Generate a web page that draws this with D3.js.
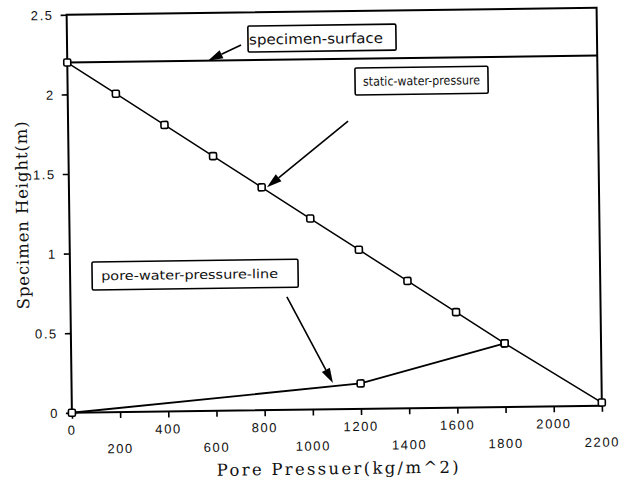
<!DOCTYPE html>
<html>
<head>
<meta charset="utf-8">
<script src="https://d3js.org/d3.v7.min.js"></script>
<style>
  html, body { margin: 0; padding: 0; background: #fff; }
  svg { display: block; }
</style>
</head>
<body>
<script>
// Static water pressure profile down the specimen (pressure kg/m^2, height m)
const staticPressure = [0, 200, 400, 600, 800, 1000, 1200, 1400, 1600, 1800, 2200];
const staticHeight   = [2.2, 2.0, 1.8, 1.6, 1.4, 1.2, 1.0, 0.8, 0.6, 0.4, 0.02];

// Measured pore water pressure line
const porePressure = [0, 1200, 1800];
const poreHeight   = [0, 0.16, 0.4];

// Top of the specimen
const surfaceHeight = 2.2;

// Axis ticks
const xTicks = [0, 200, 400, 600, 800, 1000, 1200, 1400, 1600, 1800, 2000, 2200];
const yTicks = [0, 0.5, 1, 1.5, 2, 2.5];
const yTickLabels = ["0", "0.5", "1", "1.5", "2", "2.5"];

// Callout labels: text and the data point each arrow points at
const calloutText = ["specimen-surface", "static-water-pressure", "pore-water-pressure-line"];
const calloutTarget = [[584, 2.2], [822, 1.40], [1085, 0.165]];

const W = 621, H = 479;
const margin = { left: 69.25, top: 11.25 };
const pw = 530, ph = 398;

const svg = d3.select("body").append("svg")
  .attr("width", W).attr("height", H);

// the scanned sheet sits at a slight tilt
const cx = margin.left + pw / 2, cy = margin.top + ph / 2;
const sheet = svg.append("g")
  .attr("transform", `rotate(-0.76, ${cx}, ${cy})`);

const g = sheet.append("g")
  .attr("transform", `translate(${margin.left},${margin.top})`);

const x = d3.scaleLinear().domain([0, 2200]).range([0, pw]);
const y = d3.scaleLinear().domain([0, 2.5]).range([ph, 0]);

const tickFont = "'Liberation Sans', Arial, sans-serif";
const serif = "'DejaVu Serif', 'Liberation Serif', serif";
const boxFont = "'DejaVu Sans', sans-serif";

// Axes
const xAxis = d3.axisBottom(x).tickValues(xTicks).tickSize(6).tickFormat("");
const yAxis = d3.axisLeft(y).tickValues(yTicks).tickSize(6).tickFormat("");

const gx = g.append("g").attr("transform", `translate(0,${ph})`).call(xAxis);
const gy = g.append("g").call(yAxis);
[gx, gy].forEach(a => {
  a.select(".domain").remove();
  a.selectAll(".tick line").attr("stroke", "#000").attr("stroke-width", 1.6);
});

// staggered x tick labels
g.append("g").selectAll("text")
  .data(xTicks)
  .join("text")
  .attr("x", d => x(d))
  .attr("y", (d, i) => ph + (i % 2 === 0 ? 22 : 41))
  .attr("text-anchor", "middle")
  .attr("font-family", tickFont)
  .attr("font-size", 13)
  .attr("letter-spacing", 1.6)
  .attr("fill", "#111")
  .text(d => d);

g.append("g").selectAll("text")
  .data(yTicks)
  .join("text")
  .attr("x", -13)
  .attr("y", d => y(d) + 5)
  .attr("text-anchor", "end")
  .attr("font-family", tickFont)
  .attr("font-size", 13)
  .attr("letter-spacing", 1.6)
  .attr("fill", "#111")
  .text((d, i) => yTickLabels[i]);

// Plot frame
g.append("rect")
  .attr("x", 0).attr("y", 0).attr("width", pw).attr("height", ph)
  .attr("fill", "none").attr("stroke", "#000").attr("stroke-width", 2);

// Axis titles
g.append("text")
  .attr("x", pw / 2).attr("y", ph + 65)
  .attr("text-anchor", "middle")
  .attr("font-family", serif).attr("font-size", 16.5)
  .attr("textLength", 242).attr("lengthAdjust", "spacing")
  .attr("fill", "#111")
  .text("Pore Pressuer(kg/m^2)");

g.append("text")
  .attr("transform", `translate(${22 - margin.left + 6},${ph / 2 + 1}) rotate(-90)`)
  .attr("text-anchor", "middle")
  .attr("font-family", serif).attr("font-size", 16.5)
  .attr("textLength", 188).attr("lengthAdjust", "spacing")
  .attr("fill", "#111")
  .text("Specimen Height(m)");

// Specimen surface line
g.append("line")
  .attr("x1", x(0)).attr("x2", x(2200))
  .attr("y1", y(surfaceHeight)).attr("y2", y(surfaceHeight))
  .attr("stroke", "#000").attr("stroke-width", 2);

const line = d3.line().x(d => x(d[0])).y(d => y(d[1]));
const staticPts = staticPressure.map((p, i) => [p, staticHeight[i]]);
const porePts = porePressure.map((p, i) => [p, poreHeight[i]]);

g.append("path").datum(staticPts).attr("d", line)
  .attr("fill", "none").attr("stroke", "#000").attr("stroke-width", 1.5);
g.append("path").datum(porePts).attr("d", line)
  .attr("fill", "none").attr("stroke", "#000").attr("stroke-width", 1.8);

// Square markers
const ms = 7;
g.append("g").selectAll("rect")
  .data(staticPts.concat(porePts))
  .join("rect")
  .attr("x", d => x(d[0]) - ms / 2).attr("y", d => y(d[1]) - ms / 2)
  .attr("width", ms).attr("height", ms).attr("rx", 1.5)
  .attr("fill", "#fff").attr("stroke", "#000").attr("stroke-width", 1.6);

// Callout boxes with arrows
const boxes = [
  { x: 181, y: 13.7, w: 148, h: 26, fs: 14, tx: 1, tl: 134, base: 18.5, sx: 174, sy: 32.5 },
  { x: 287.5, y: 57, w: 133, h: 27, fs: 12.5, tx: 8, tl: 117, base: 18, sx: 280, sy: 110 },
  { x: 22, y: 247.5, w: 206, h: 28, fs: 12.5, tx: 9, tl: 177, base: 18.5, sx: 216.5, sy: 285 }
];

boxes.forEach((b, i) => {
  const bg = g.append("g");
  bg.append("rect")
    .attr("x", b.x).attr("y", b.y).attr("width", b.w).attr("height", b.h)
    .attr("rx", 1.5)
    .attr("fill", "#fff").attr("stroke", "#000").attr("stroke-width", 1.6);
  bg.append("text")
    .attr("x", b.x + b.tx).attr("y", b.y + b.base)
    .attr("font-family", boxFont).attr("font-size", b.fs)
    .attr("textLength", b.tl).attr("lengthAdjust", "spacingAndGlyphs")
    .attr("fill", "#111")
    .text(calloutText[i]);

  const tx = x(calloutTarget[i][0]), ty = y(calloutTarget[i][1]);
  const dx = tx - b.sx, dy = ty - b.sy;
  const len = Math.hypot(dx, dy), ux = dx / len, uy = dy / len;
  const headL = 15, headW = 4.5;
  const bx = tx - ux * headL, by = ty - uy * headL;
  bg.append("line")
    .attr("x1", b.sx).attr("y1", b.sy).attr("x2", bx).attr("y2", by)
    .attr("stroke", "#000").attr("stroke-width", 1.6);
  bg.append("path")
    .attr("d", `M${tx},${ty}L${bx - uy * headW},${by + ux * headW}L${bx + uy * headW},${by - ux * headW}Z`)
    .attr("fill", "#000");
});
</script>
</body>
</html>
